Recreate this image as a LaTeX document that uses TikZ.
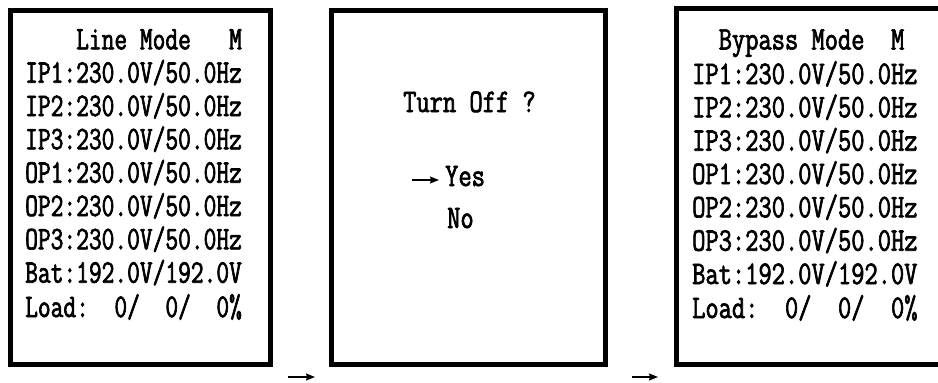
\documentclass[tikz,border=0pt]{standalone}
\usepackage{fontspec}
\usetikzlibrary{
    arrows.meta,
    positioning
}
\newfontfamily\lcdfont[FakeStretch=0.75, FakeBold=2]{Latin Modern Mono}
\newfontfamily\lcdwide[FakeStretch=0.78, FakeBold=2]{Latin Modern Mono}
\tikzset{
    % --- LCD screen frame ---
    screen/.style = {
        rectangle, draw, line width=5pt,
        inner sep=0pt
    },
    % --- One line of screen text ---
    lcd_line/.style = {
        anchor=base west, inner sep=0pt,
        font=\lcdfont\fontsize{33}{34}\selectfont
    },
    % --- Slightly wider screen text ---
    lcd_wide/.style = {
        lcd_line,
        font=\lcdwide\fontsize{33}{34}\selectfont
    },
    % --- Menu cursor / step arrow ---
    step_arrow/.style = {
        -{Stealth[length=9pt, width=7pt, inset=1pt]}, line width=1.4pt
    }
}

\begin{document}
\begin{tikzpicture}[x=1pt, y=-1pt]

\useasboundingbox (0,0) rectangle (938,383);
\clip (0,0) rectangle (938,383);

% ---------------------------------------------------------
% Screen 1: line mode
% ---------------------------------------------------------
\node[screen, minimum width=260pt, minimum height=354pt] (Scr_Line) at (140.5, 187.5) {};

\node[lcd_line] (L_Title) at (25, 49.3) {~~~~Line Mode~~~M};
\node[lcd_line] (L_IP1) at (25, 82.7) {IP1:230.0V/50.0Hz};
\node[lcd_line] (L_IP2) at (25, 116.0) {IP2:230.0V/50.0Hz};
\node[lcd_line] (L_IP3) at (25, 149.3) {IP3:230.0V/50.0Hz};
\node[lcd_line] (L_OP1) at (25, 182.7) {OP1:230.0V/50.0Hz};
\node[lcd_line] (L_OP2) at (25, 216.0) {OP2:230.0V/50.0Hz};
\node[lcd_line] (L_OP3) at (25, 249.3) {OP3:230.0V/50.0Hz};
\node[lcd_line] (L_Bat) at (25, 282.7) {Bat:192.0V/192.0V};
\node[lcd_line] (L_Load) at (25, 317.0) {Load:~~0/~~0/~~0\%};

% ---------------------------------------------------------
% Screen 2: turn off prompt
% ---------------------------------------------------------
\node[screen, minimum width=274.5pt, minimum height=354pt] (Scr_Off) at (468.25, 187.5) {};

\node[lcd_wide] (Ask) at (403, 112) {Turn Off ?};
\node[lcd_wide] (Yes) at (445, 186) {Yes};
\node[lcd_wide] (No) at (447, 228) {No};

% Cursor in front of Yes
\coordinate (Cursor) at (412, 180);
\draw[step_arrow, shorten >=6pt] (Cursor) -- (Cursor -| Yes.west);

% ---------------------------------------------------------
% Screen 3: bypass mode (runs off the right edge)
% ---------------------------------------------------------
\node[screen, minimum width=284pt, minimum height=355.5pt] (Scr_Byp) at (818, 186.25) {};

\node[lcd_wide] (B_Title) at (692, 49.5) {~~Bypass Mode~~M};
\node[lcd_wide] (B_IP1) at (692, 84.0) {IP1:230.0V/50.0Hz};
\node[lcd_wide] (B_IP2) at (692, 117.3) {IP2:230.0V/50.0Hz};
\node[lcd_wide] (B_IP3) at (692, 150.7) {IP3:230.0V/50.0Hz};
\node[lcd_wide] (B_OP1) at (692, 184.0) {OP1:230.0V/50.0Hz};
\node[lcd_wide] (B_OP2) at (692, 217.3) {OP2:230.0V/50.0Hz};
\node[lcd_wide] (B_OP3) at (692, 250.7) {OP3:230.0V/50.0Hz};
\node[lcd_wide] (B_Bat) at (692, 284.0) {Bat:192.0V/192.0V};
\node[lcd_wide] (B_Load) at (692, 318.0) {Load:~~0/~~0/~~0\%};

% ---------------------------------------------------------
% Step arrows below the screens
% ---------------------------------------------------------
\coordinate (Step1_s) at (288, 377);
\coordinate (Step1_e) at (315, 377);
\coordinate (Step2_s) at (632, 377);
\coordinate (Step2_e) at (658, 377);

\draw[step_arrow] (Step1_s) -- (Step1_e);
\draw[step_arrow] (Step2_s) -- (Step2_e);

\end{tikzpicture}
\end{document}
